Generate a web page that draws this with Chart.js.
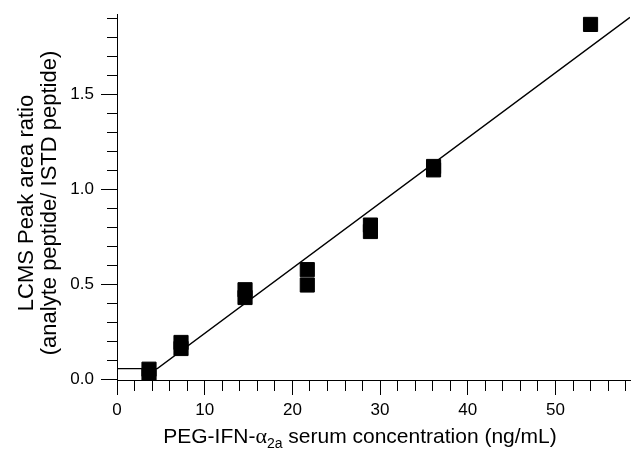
<!DOCTYPE html>
<html>
<head>
<meta charset="utf-8">
<script src="https://cdn.jsdelivr.net/npm/chart.js@4.4.1/dist/chart.umd.min.js"></script>
<style>
    html, body { margin: 0; padding: 0; background: #fff; }
    #wrap { width: 641px; height: 449px; position: relative; }
</style>
</head>
<body>
<div id="wrap"><canvas id="calChart"></canvas></div>
<script>
"use strict";

// Kalibreringspunkter (replikat)
const concX = [3.65, 3.65, 7.3, 7.3, 14.6, 14.6, 21.7, 21.7, 28.9, 28.9, 36.1, 36.1, 54.0];
const ratioY = [0.052, 0.017, 0.193, 0.161, 0.471, 0.430, 0.577, 0.496, 0.812, 0.778, 1.121, 1.103, 1.870];

// Anpassad linje (platå vid låga koncentrationer, sedan linjär)
const fitX = [0, 4.6, 58.5];
const fitY = [0.055, 0.055, 1.907];

// Axeltitlar
const yTitle = ["LCMS Peak area ratio", "(analyte peptide/ ISTD peptide)"];
const xTitleParts = ["PEG-IFN-", "\u03b1", "2a", " serum concentration (ng/mL)"];

const FONT = "'Liberation Sans', Arial, sans-serif";

// Hjälpfunktioner för stora tickar
const isMajorX = v => Math.round(v) % 10 === 0;
const isMajorY = v => Math.round(v * 10) % 5 === 0;

// Plugin som ritar axeltitlarna (x-titeln har nedsänkt text)
const titlePlugin = {
    id: "axisTitles",
    afterDraw(chart) {
        const ctx = chart.ctx;
        ctx.save();
        ctx.fillStyle = "#000";

        // y-titel, två rader, roterad
        ctx.save();
        ctx.translate(0, 203);
        ctx.rotate(-Math.PI / 2);
        ctx.font = "22px " + FONT;
        ctx.textAlign = "center";
        ctx.textBaseline = "alphabetic";
        ctx.fillText(yTitle[0], 0, 33);
        ctx.fillText(yTitle[1], 0, 56);
        ctx.restore();

        // x-titel: PEG-IFN-α2a serum concentration (ng/mL)
        const big = "21px " + FONT;
        const greek = "22px 'Liberation Serif', 'Times New Roman', serif";
        const small = "14px " + FONT;
        const parts = [
            { text: xTitleParts[0], font: big, dy: 0 },
            { text: xTitleParts[1], font: greek, dy: 0 },
            { text: xTitleParts[2], font: small, dy: 5 },
            { text: xTitleParts[3], font: big, dy: 0 }
        ];
        let total = 0;
        parts.forEach(p => { ctx.font = p.font; p.w = ctx.measureText(p.text).width; total += p.w; });
        let x = 360 - total / 2;
        ctx.textBaseline = "alphabetic";
        ctx.textAlign = "left";
        parts.forEach(p => {
            ctx.font = p.font;
            ctx.fillText(p.text, x, 443 + p.dy);
            x += p.w;
        });
        ctx.restore();
    }
};

new Chart(document.getElementById("calChart"), {
    type: "scatter",
    data: {
        datasets: [{
            label: "Kalibrering",
            data: concX.map((x, i) => ({ x: x, y: ratioY[i] })),
            pointStyle: "rect",
            pointRadius: 10,
            pointHoverRadius: 10,
            pointBorderWidth: 1,
            backgroundColor: "#000",
            borderColor: "#000",
            showLine: false
        }, {
            label: "Anpassning",
            data: fitX.map((x, i) => ({ x: x, y: fitY[i] })),
            showLine: true,
            borderColor: "#000",
            borderWidth: 1.4,
            pointRadius: 0,
            tension: 0
        }]
    },
    options: {
        responsive: true,
        maintainAspectRatio: false,
        animation: false,
        layout: { padding: { top: 14, right: 0, left: 0, bottom: 0 } },
        plugins: {
            legend: { display: false },
            tooltip: { enabled: false }
        },
        scales: {
            x: {
                type: "linear",
                min: 0,
                max: 58.5,
                afterFit: scale => {
                    scale.height = 69;
                    scale.paddingLeft = 0;
                    scale.paddingRight = 0;
                },
                ticks: {
                    stepSize: 2,
                    autoSkip: false,
                    includeBounds: false,
                    maxRotation: 0,
                    padding: 5,
                    color: "#000",
                    font: { family: FONT, size: 17 },
                    callback: v => (isMajorX(v) ? String(Math.round(v)) : "")
                },
                grid: {
                    display: true,
                    drawOnChartArea: false,
                    drawTicks: true,
                    tickLength: 15,
                    tickColor: "#000",
                    tickWidth: 1,
                    // små tickar: bara de första 10 px från axeln
                    tickBorderDash: ctx => (isMajorX(ctx.tick.value) ? [] : [10, 30])
                },
                border: { display: true, color: "#000", width: 1 }
            },
            y: {
                type: "linear",
                min: -0.005,
                max: 1.925,
                afterFit: scale => {
                    scale.width = 117;
                    scale.paddingTop = 0;
                    scale.paddingBottom = 0;
                },
                ticks: {
                    stepSize: 0.1,
                    autoSkip: false,
                    includeBounds: false,
                    padding: 7,
                    color: "#000",
                    font: { family: FONT, size: 17 },
                    callback: v => (isMajorY(v) ? v.toFixed(1) : "")
                },
                grid: {
                    display: true,
                    drawOnChartArea: false,
                    drawTicks: true,
                    tickLength: 16,
                    tickColor: "#000",
                    tickWidth: 1,
                    // små tickar: bara de sista 10 px närmast axeln
                    tickBorderDash: ctx => (isMajorY(ctx.tick.value) ? [] : [10, 6]),
                    tickBorderDashOffset: ctx => (isMajorY(ctx.tick.value) ? 0 : 10)
                },
                border: { display: true, color: "#000", width: 1 }
            }
        }
    },
    plugins: [titlePlugin]
});
</script>
</body>
</html>
